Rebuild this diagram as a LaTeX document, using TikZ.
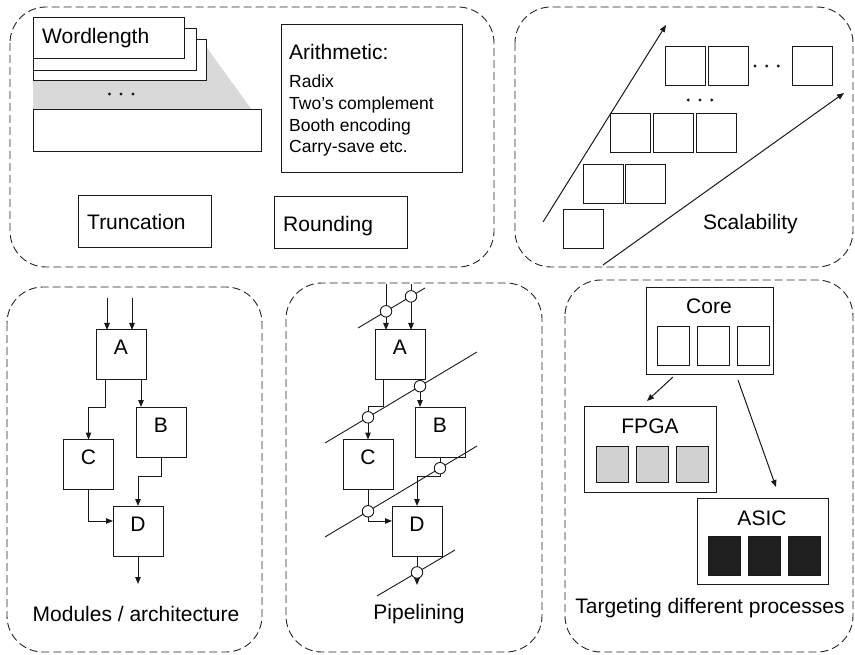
\documentclass[tikz,border=0pt]{standalone}
\usepackage{fontspec}
\setmainfont{Liberation Sans}
\usetikzlibrary{arrows.meta,calc}
\begin{document}
\begin{tikzpicture}[x=1pt,y=-1pt,
  panel/.style={draw=black!85, line width=0.9pt, dash pattern=on 8pt off 4pt, rounded corners=36pt},
  box/.style={draw=black!90, line width=1pt, fill=white, inner sep=0pt, outer sep=0pt},
  sq/.style={box, minimum width=40pt, minimum height=39pt},
  lbl/.style={inner sep=0pt, font=\fontsize{21}{25}\selectfont},
  small/.style={inner sep=0pt, font=\fontsize{17.5}{21}\selectfont},
  arr/.style={draw=black!90, line width=1pt, -{Triangle[length=7pt,width=5.5pt]}},
  pipe/.style={draw=black!90, line width=0.9pt},
  reg/.style={circle, draw=black!90, line width=0.9pt, fill=white, minimum size=11.5pt, inner sep=0pt},
  dot/.style={fill=black!90}
]
\useasboundingbox (0,0) rectangle (855,655);

% ---------------- panels
\draw[panel] (10,7) rectangle (494,267);
\draw[panel] (515,7) rectangle (853,267);
\draw[panel] (7,287) rectangle (262,652);
\draw[panel] (286,283) rectangle (542,652);
\draw[panel] (565,280) rectangle (853,652);

% ---------------- panel 1 : wordlength / arithmetic
\fill[black!15] (33,110) -- (33,81) -- (207,81) -- (207,48) -- (252,110) -- cycle;
\node[box, minimum width=173pt, minimum height=41pt] (w3) at (119.5,60.5) {};
\node[box, minimum width=163pt, minimum height=42pt] (w2) at (114.5,50) {};
\node[box, minimum width=151pt, minimum height=41pt] (w1) at (108.5,38.5) {};
\node[lbl, anchor=base west] (wl) at (42,44) {Wordlength};
\fill[dot] (109.5,94) circle (1.6) (121,94) circle (1.6) (133,94) circle (1.6);
\node[box, minimum width=228pt, minimum height=42pt] (wb) at (147,131) {};

\node[box, minimum width=181pt, minimum height=148pt] (arith) at (371.5,99) {};
\node[lbl, anchor=base west] (ar0) at (289,60) {Arithmetic:};
\node[small, anchor=base west] (ar1) at (289,88) {Radix};
\node[small, anchor=base west] (ar2) at (289,110) {Two’s complement};
\node[small, anchor=base west] (ar3) at (289,131.5) {Booth encoding};
\node[small, anchor=base west] (ar4) at (289,152.5) {Carry-save etc.};

\node[box, minimum width=133pt, minimum height=52pt] (trunc) at (144.5,222) {};
\node[lbl, anchor=base west] (truncl) at (87,230) {Truncation};
\node[box, minimum width=133pt, minimum height=52pt] (round) at (340.5,223) {};
\node[lbl, anchor=base west] (roundl) at (283,232) {Rounding};

% ---------------- panel 2 : scalability
\coordinate (s1) at (543,222); \coordinate (e1) at (666,25);
\coordinate (s2) at (603,265); \coordinate (e2) at (844,93);
\draw[arr] (s1) -- (e1);
\draw[arr] (s2) -- (e2);
\node[sq] (q11) at (685,66) {};
\node[sq] (q12) at (728.5,66) {};
\node[sq] (q13) at (812.5,66) {};
\fill[dot] (755,66) circle (1.6) (766.7,66) circle (1.6) (778.3,66) circle (1.6);
\fill[dot] (688.3,100) circle (1.6) (700,100) circle (1.6) (711.7,100) circle (1.6);
\node[sq] (q31) at (630,133) {};
\node[sq] (q32) at (673,133) {};
\node[sq] (q33) at (716,133) {};
\node[sq] (q41) at (603,184.5) {};
\node[sq] (q42) at (645.5,184.5) {};
\node[sq] (q51) at (583,229.5) {};
\node[lbl, anchor=base west] (scal) at (703,230) {Scalability};

% ---------------- panel 3 : modules / architecture
\node[box, minimum size=50pt] (A) at (121,355) {};
\node[box, minimum size=50pt] (B) at (161,432) {};
\node[box, minimum size=50pt] (C) at (88.5,464.5) {};
\node[box, minimum size=50pt] (D) at (138,531) {};
\node[lbl, anchor=base] at (A.center) {A};
\node[lbl, anchor=base] at (B.center) {B};
\node[lbl, anchor=base] at ([shift={(0,-0.5)}]C.center) {C};
\node[lbl, anchor=base] at (D.center) {D};
\coordinate (i1) at (107,298); \coordinate (i2) at (132,298);
\draw[arr] (i1) -- (i1 |- A.north);
\draw[arr] (i2) -- (i2 |- A.north);
\draw[arr] ([shift={(9,0)}]A.south west) -- ++(0,27) -| (C.north);
\draw[arr] ([shift={(-5,0)}]A.south east) -- ([shift={(-5,0)}]A.south east |- B.north);
\draw[arr] (B.south) -- ++(0,19) -| (D.north);
\draw[arr] (C.south) |- ([shift={(0,-10)}]D.west);
\coordinate (o1) at (138,584);
\draw[arr] (D.south) -- (o1);
\node[lbl, anchor=base] (modl) at (136,621) {Modules / architecture};

% ---------------- panel 4 : pipelining
\node[box, minimum size=50pt] (A2) at (400,355) {};
\node[box, minimum size=50pt] (B2) at (440,432) {};
\node[box, minimum size=50pt] (C2) at (368,464.5) {};
\node[box, minimum size=50pt] (D2) at (417,531) {};
\node[lbl, anchor=base] at (A2.center) {A};
\node[lbl, anchor=base] at (B2.center) {B};
\node[lbl, anchor=base] at ([shift={(0,-0.5)}]C2.center) {C};
\node[lbl, anchor=base] at (D2.center) {D};
\coordinate (L1a) at (358,328); \coordinate (L1b) at (425,288);
\coordinate (L2a) at (325,443); \coordinate (L2b) at (477,352);
\coordinate (L3a) at (325,537); \coordinate (L3b) at (477,446);
\coordinate (L4a) at (377,596); \coordinate (L4b) at (455,550);
\draw[pipe] (L1a) -- (L1b);
\draw[pipe] (L2a) -- (L2b);
\draw[pipe] (L3a) -- (L3b);
\draw[pipe] (L4a) -- (L4b);
\coordinate (j1) at (386,284); \coordinate (j2) at (411,284);
\draw[arr] (j1) -- (j1 |- A2.north);
\draw[arr] (j2) -- (j2 |- A2.north);
\draw[arr] ([shift={(8,0)}]A2.south west) -- ++(0,26) -| (C2.north);
\draw[arr] ([shift={(-5,0)}]A2.south east) -- ([shift={(-5,0)}]A2.south east |- B2.north);
\draw[arr] (B2.south) -- ++(0,19) -| (D2.north);
\draw[arr] (C2.south) |- ([shift={(0,-10)}]D2.west);
\coordinate (o2) at (417,585);
\draw[arr] (D2.south) -- (o2);
\node[reg] (r1) at (intersection of L1a--L1b and {386,280}--{386,340}) {};
\node[reg] (r2) at (intersection of L1a--L1b and {411,280}--{411,340}) {};
\node[reg] (r3) at (intersection of L2a--L2b and {368,380}--{368,440}) {};
\node[reg] (r4) at (intersection of L2a--L2b and {420,380}--{420,440}) {};
\node[reg] (r5) at (intersection of L3a--L3b and {440,440}--{440,500}) {};
\node[reg] (r6) at (intersection of L3a--L3b and {368,480}--{368,540}) {};
\node[reg] (r7) at (intersection of L4a--L4b and {417,540}--{417,600}) {};
\node[lbl, anchor=base] (pipel) at (419,619) {Pipelining};

% ---------------- panel 5 : targeting
\node[box, minimum width=127pt, minimum height=87pt] (core) at (709.5,331.5) {};
\node[lbl, anchor=base] (corel) at (709,314) {Core};
\node[box, minimum width=32pt, minimum height=39pt] (c1) at (673,346.5) {};
\node[box, minimum width=32pt, minimum height=39pt] (c2) at (713,346.5) {};
\node[box, minimum width=32pt, minimum height=39pt] (c3) at (753,346.5) {};

\node[box, minimum width=132pt, minimum height=86pt] (fpga) at (650,449) {};
\node[lbl, anchor=base] (fpgal) at (650,433) {FPGA};
\node[box, fill=black!18, minimum width=32pt, minimum height=36pt] (f1) at (612,464) {};
\node[box, fill=black!18, minimum width=32pt, minimum height=36pt] (f2) at (652,464) {};
\node[box, fill=black!18, minimum width=32pt, minimum height=36pt] (f3) at (692,464) {};

\node[box, minimum width=131pt, minimum height=86pt] (asic) at (762.5,541) {};
\node[lbl, anchor=base] (asicl) at (762,525) {ASIC};
\node[box, fill=black!88, minimum width=32pt, minimum height=39pt] (a1) at (724,555.5) {};
\node[box, fill=black!88, minimum width=32pt, minimum height=39pt] (a2) at (764,555.5) {};
\node[box, fill=black!88, minimum width=32pt, minimum height=39pt] (a3) at (804,555.5) {};

\draw[arr] ([shift={(27,2)}]core.south west) -- ([shift={(-3,-5)}]fpga.north);
\draw[arr] ([shift={(92,5)}]core.south west) -- ([shift={(79,-11)}]asic.north west);
\node[lbl, anchor=base] (targ) at (710,613) {Targeting different processes};
\end{tikzpicture}
\end{document}
